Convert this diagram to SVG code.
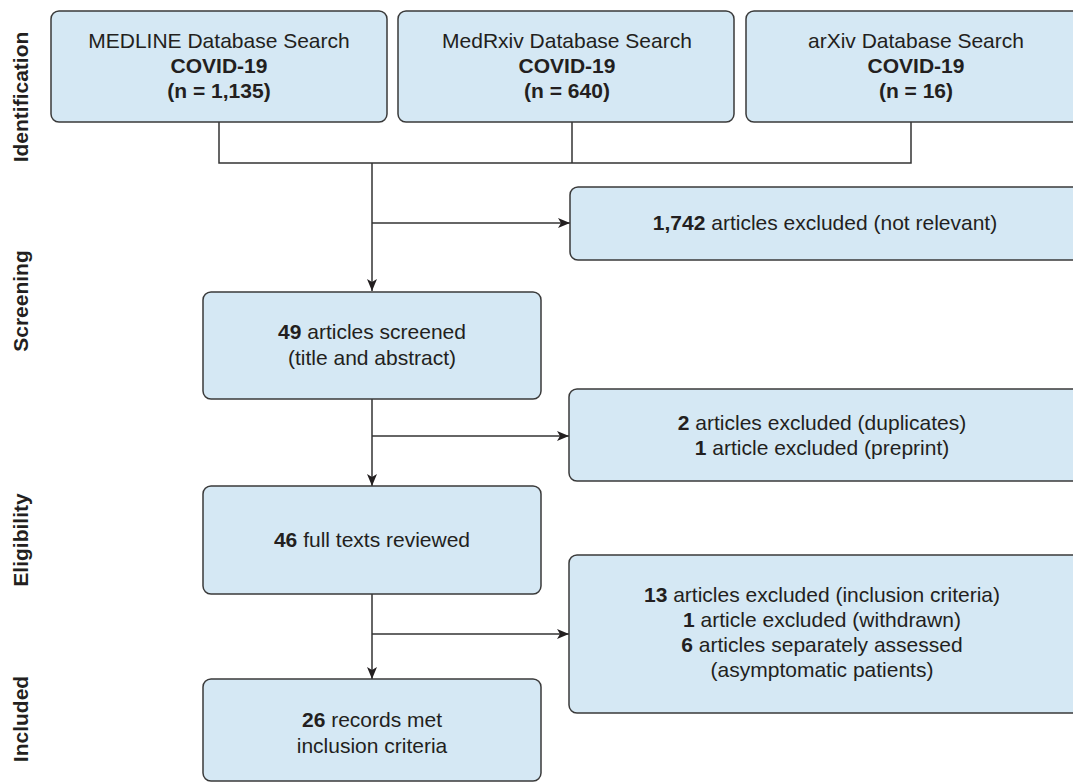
<svg xmlns="http://www.w3.org/2000/svg" width="1073" height="783" viewBox="0 0 1073 783">
<defs>
<style>
.box{fill:#d5e8f4;stroke:#3a3a3a;stroke-width:1.5}
.t{font-family:"Liberation Sans",Arial,sans-serif;font-size:21px;fill:#231f20;text-anchor:middle}
.b{font-weight:bold}
.side{font-family:"Liberation Sans",Arial,sans-serif;font-size:21px;font-weight:bold;fill:#231f20;text-anchor:middle}
.ln{fill:none;stroke:#333;stroke-width:1.5}
</style>
<marker id="ah" viewBox="0 0 12 10" refX="12" refY="5" markerWidth="12" markerHeight="10" markerUnits="userSpaceOnUse" orient="auto">
<path d="M0,0 L12,5 L0,10 L3,5 z" fill="#231f20"/>
</marker>
</defs>
<rect width="1073" height="783" fill="#fff"/>
<g id="labels">
<text class="side" transform="translate(28,97) rotate(-90)">Identification</text>
<text class="side" transform="translate(28,301) rotate(-90)">Screening</text>
<text class="side" transform="translate(28,540) rotate(-90)">Eligibility</text>
<text class="side" transform="translate(28,719) rotate(-90)">Included</text>
</g>
<g id="connectors">
<polyline class="ln" points="219,122 219,163 911,163 911,122"/>
<line class="ln" x1="572" y1="122" x2="572" y2="163"/>
<line class="ln" x1="372" y1="163" x2="372" y2="291" marker-end="url(#ah)"/>
<line class="ln" x1="372" y1="223" x2="570" y2="223" marker-end="url(#ah)"/>
<line class="ln" x1="372" y1="399" x2="372" y2="486" marker-end="url(#ah)"/>
<line class="ln" x1="372" y1="436" x2="569" y2="436" marker-end="url(#ah)"/>
<line class="ln" x1="372" y1="594" x2="372" y2="679" marker-end="url(#ah)"/>
<line class="ln" x1="372" y1="634" x2="569" y2="634" marker-end="url(#ah)"/>
</g>
<g id="medline">
<rect class="box" x="51" y="11" width="336" height="111" rx="8"/>
<text class="t" x="219" y="48">MEDLINE Database Search</text>
<text class="t b" x="219" y="73">COVID-19</text>
<text class="t b" x="219" y="98">(n = 1,135)</text>
</g>
<g id="medrxiv">
<rect class="box" x="398" y="11" width="336" height="111" rx="8"/>
<text class="t" x="567" y="48">MedRxiv Database Search</text>
<text class="t b" x="567" y="73">COVID-19</text>
<text class="t b" x="567" y="98">(n = 640)</text>
</g>
<g id="arxiv">
<rect class="box" x="746" y="11" width="340" height="111" rx="8"/>
<text class="t" x="916" y="48">arXiv Database Search</text>
<text class="t b" x="916" y="73">COVID-19</text>
<text class="t b" x="916" y="98">(n = 16)</text>
</g>
<g id="excluded1">
<rect class="box" x="570" y="187" width="520" height="73" rx="8"/>
<text class="t" x="825" y="230"><tspan class="b">1,742</tspan> articles excluded (not relevant)</text>
</g>
<g id="screened">
<rect class="box" x="203" y="292" width="338" height="107" rx="8"/>
<text class="t" x="372" y="339"><tspan class="b">49</tspan> articles screened</text>
<text class="t" x="372" y="365">(title and abstract)</text>
</g>
<g id="excluded2">
<rect class="box" x="569" y="389" width="520" height="92" rx="8"/>
<text class="t" x="822" y="430"><tspan class="b">2</tspan> articles excluded (duplicates)</text>
<text class="t" x="822" y="455"><tspan class="b">1</tspan> article excluded (preprint)</text>
</g>
<g id="fulltexts">
<rect class="box" x="203" y="486" width="338" height="108" rx="8"/>
<text class="t" x="372" y="547"><tspan class="b">46</tspan> full texts reviewed</text>
</g>
<g id="excluded3">
<rect class="box" x="569" y="555" width="520" height="158" rx="8"/>
<text class="t" x="822" y="602"><tspan class="b">13</tspan> articles excluded (inclusion criteria)</text>
<text class="t" x="822" y="627"><tspan class="b">1</tspan> article excluded (withdrawn)</text>
<text class="t" x="822" y="652"><tspan class="b">6</tspan> articles separately assessed</text>
<text class="t" x="822" y="677">(asymptomatic patients)</text>
</g>
<g id="included">
<rect class="box" x="203" y="679" width="338" height="102" rx="8"/>
<text class="t" x="372" y="727"><tspan class="b">26</tspan> records met</text>
<text class="t" x="372" y="753">inclusion criteria</text>
</g>
</svg>
